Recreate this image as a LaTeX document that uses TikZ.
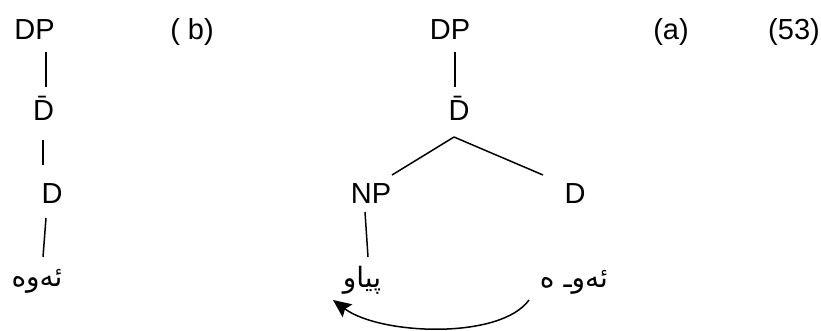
\documentclass[tikz,border=0pt]{standalone}
\usepackage{fontspec}
\usetikzlibrary{arrows.meta}
\setmainfont{Liberation Sans}
\newfontfamily\arabicfont[Script=Arabic]{DejaVu Sans}
\TeXXeTstate=1
\newcommand{\catSize}[0]{\fontsize{29}{34}\selectfont}
\newcommand{\wordSize}[0]{\fontsize{28}{34}\selectfont}
\newcommand{\Dbar}[0]{\=D}

\begin{document}
\begin{tikzpicture}[x=1pt, y=-1pt]
  \tikzset{
    cat/.style={inner sep=0pt, anchor=base, font=\catSize},
    word/.style={inner sep=0pt, anchor=base, font=\arabicfont\wordSize},
    branch/.style={line width=1.5pt},
    movement/.style={line width=1.5pt, -{Stealth[length=18pt,width=16pt,inset=3pt]}}}
  \useasboundingbox (0,0) rectangle (821,330);
  % tree (b)
  \node[cat] (DP-b) at (34.5,39) {DP};
  \node[cat] (Dbar-b) at (43.5,120) {\Dbar};
  \node[cat] (D-b) at (52,203) {D};
  \node[word] (W-b) at (37,286) {\beginR ئەوە\endR};
  \node[cat] (Lbl-b) at (192,39) {( b)};
  \draw[branch] ([shift={(11.5,13)}]DP-b.base) -- ([shift={(2.5,-33)}]Dbar-b.base);
  \draw[branch] ([shift={(-0.5,20)}]Dbar-b.base) -- ([shift={(-9,-38)}]D-b.base);
  \draw[branch] ([shift={(-6,15)}]D-b.base) -- ([shift={(6,-29)}]W-b.base);
  % tree (a)
  \node[cat] (DP-a) at (450,39) {DP};
  \node[cat] (Dbar-a) at (459,120) {\Dbar};
  \node[cat] (NP-a) at (371,203) {NP};
  \node[cat] (D-a) at (575,203) {D};
  \node[word] (W-a1) at (362,287) {\beginR پیاو\endR};
  \node[word] (W-a2) at (574,287) {\beginR ئەوـ ه\endR};
  \node[cat] (Lbl-a) at (671,39) {(a)};
  \node[cat] (Num) at (794,39) {(53)};
  \draw[branch] ([shift={(5,13)}]DP-a.base) -- ([shift={(-4,-33)}]Dbar-a.base);
  \draw[branch] ([shift={(-5,17)}]Dbar-a.base) -- ([shift={(21,-28)}]NP-a.base);
  \draw[branch] ([shift={(-5,17)}]Dbar-a.base) -- ([shift={(-32,-28)}]D-a.base);
  \draw[branch] ([shift={(-6,9)}]NP-a.base) -- ([shift={(6,-30)}]W-a1.base);
  \draw[movement] ([shift={(-45,13)}]W-a2.base) .. controls +(-29,40) and +(47,35) .. ([shift={(-29,13)}]W-a1.base);
\end{tikzpicture}
\end{document}
